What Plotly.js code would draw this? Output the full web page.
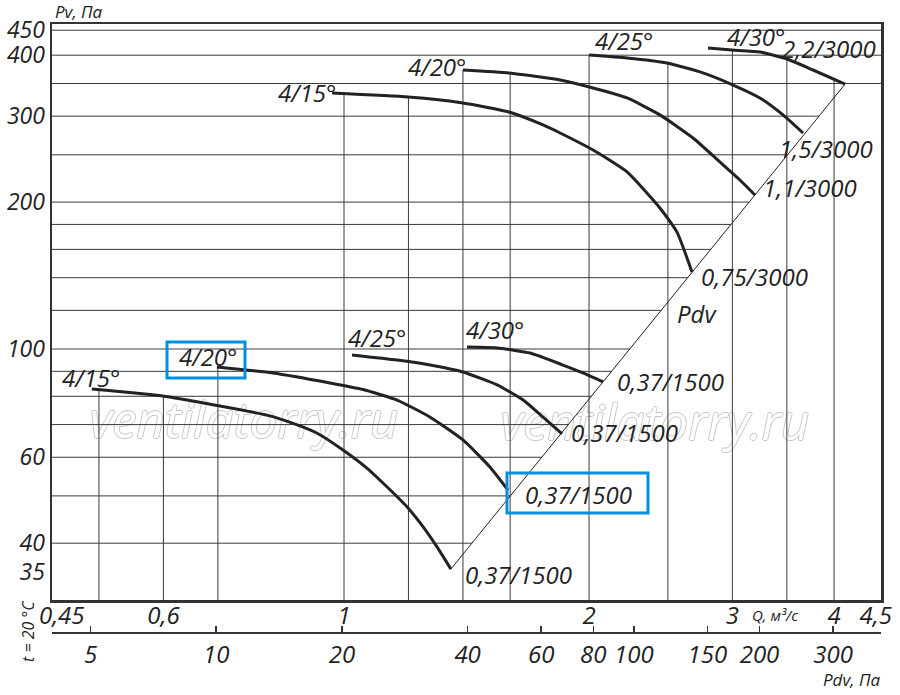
<!DOCTYPE html>
<html><head><meta charset="utf-8">
<script src="https://cdn.plot.ly/plotly-3.0.1.min.js"></script>
<style>html,body{margin:0;padding:0;background:#fff}</style>
</head><body><div id="chart" style="width:900px;height:695px"></div>
<script>
// ---- tick labels ----
const qTicks = [0.45, 0.6, 1, 2, 3, 4, 4.5];
const qTickText = ['0,45', '0,6', '1', '2', '3', '4', '4,5'];
const pdvTicks = [5, 10, 20, 40, 60, 80, 100, 150, 200, 300];
const pdvTickText = ['5', '10', '20', '40', '60', '80', '100', '150', '200', '300'];
const pvTicks = [35, 40, 60, 100, 200, 300, 400, 450];
const pvTickText = ['35', '40', '60', '100', '200', '300', '400', '450'];
// ---- grid values ----
const gridQ = [0.5, 0.6, 0.7, 1.0, 1.2, 1.4, 1.6, 2.0, 2.5, 3.0, 3.5, 4.0];
const gridPv = [40, 50, 60, 70, 80, 90, 100, 120, 140, 160, 180, 200, 250, 300, 350, 400, 450];
// ---- Pdv line ----
const pdvLineQ = [1.353, 4.126];
const pdvLinePv = [35.4, 349];
// ---- 1500 rpm curves (0,37 kW) ----
const q15_1500 = [0.490, 0.599, 0.698, 0.804, 0.866, 0.927, 0.997, 1.067, 1.129, 1.195, 1.251, 1.301, 1.353];
const pv15_1500 = [82.8, 80.1, 76.6, 73.2, 70.4, 67.2, 62.1, 57.0, 52.2, 47.5, 43.2, 39.3, 35.4];
const q20_1500 = [0.698, 0.818, 0.961, 1.055, 1.162, 1.276, 1.400, 1.511, 1.590];
const pv20_1500 = [91.9, 89.3, 85.2, 82.6, 78.6, 72.5, 65.1, 57.3, 51.4];
const q25_1500 = [1.023, 1.162, 1.276, 1.400, 1.542, 1.660, 1.756, 1.853];
const pv25_1500 = [97.2, 94.9, 92.7, 89.7, 84.4, 78.6, 72.5, 67.0];
const q30_1500 = [1.416, 1.542, 1.693, 1.858, 1.966, 2.081];
const pv30_1500 = [100.9, 100.5, 98.1, 92.7, 89.3, 85.6];
// ---- 3000 rpm curves ----
const q15_3000 = [0.967, 1.199, 1.400, 1.595, 1.756, 1.843, 2.023, 2.227, 2.444, 2.565, 2.676];
const pv15_3000 = [334.6, 328.4, 319.3, 305.9, 287.8, 277.1, 255.7, 230.6, 194.5, 173.6, 143.8];
const q20_3000 = [1.400, 1.595, 1.843, 2.023, 2.227, 2.444, 2.684, 2.896, 3.065, 3.198];
const pv20_3000 = [373.0, 367.8, 355.9, 342.7, 326.9, 301.8, 270.6, 241.7, 222.0, 206.8];
const q25_3000 = [2.000, 2.227, 2.493, 2.738, 3.006, 3.243, 3.462, 3.664];
const pv25_3000 = [400.4, 394.8, 385.5, 369.6, 347.5, 326.9, 301.8, 277.1];
const q30_3000 = [2.800, 2.997, 3.243, 3.501, 3.769, 4.126];
const pv30_3000 = [413.9, 410.0, 406.1, 392.9, 373.0, 349.0];
// ---- watermark text ----
const watermarkText = 'ventilatorry.ru';

const curves = [
  [q15_1500, pv15_1500], [q20_1500, pv20_1500], [q25_1500, pv25_1500], [q30_1500, pv30_1500],
  [q15_3000, pv15_3000], [q20_3000, pv20_3000], [q25_3000, pv25_3000], [q30_3000, pv30_3000]
];

// axis ranges (log10)
const xRange = [-0.35872, 0.65971];
const yRange = [1.48566, 2.66598];
const x2Range = [0.6068, 2.59195];
const qMin = Math.pow(10, xRange[0]), qMax = Math.pow(10, xRange[1]);
const pMin = Math.pow(10, yRange[0]), pMax = Math.pow(10, yRange[1]);

function interpLogLog(xs, ys, x) {
  const lx = Math.log10(x);
  if (x < xs[0]) return (x >= xs[0] * 0.995) ? ys[0] : null;
  for (let i = 0; i < xs.length - 1; i++) {
    if (x >= xs[i] && x <= xs[i + 1]) {
      const t = (lx - Math.log10(xs[i])) / (Math.log10(xs[i + 1]) - Math.log10(xs[i]));
      return Math.pow(10, Math.log10(ys[i]) + t * (Math.log10(ys[i + 1]) - Math.log10(ys[i])));
    }
  }
  return null;
}

// horizontal grid: ends on the Pdv line
const hgx = [], hgy = [];
gridPv.forEach(v => {
  let end = qMax;
  if (v <= pdvLinePv[1]) end = interpLogLog(pdvLinePv, pdvLineQ, v) || qMax;
  hgx.push(qMin, end, null); hgy.push(v, v, null);
});
// vertical grid: from bottom up to the highest curve
const vgx = [], vgy = [];
gridQ.forEach(q => {
  let top = null;
  curves.forEach(c => { const p = interpLogLog(c[0], c[1], q); if (p !== null && (top === null || p > top)) top = p; });
  if (top === null) top = pMax;
  vgx.push(q, q, null); vgy.push(pMin, top, null);
});

// watermark placement (pixel centres of the reference) converted through the axis ranges
const PL = 52, PR = 881, PT = 24, PB = 695, PYB = 600;
const pxToQ = px => Math.pow(10, xRange[0] + (px - PL) / (PR - PL) * (xRange[1] - xRange[0]));
const pyToPv = py => Math.pow(10, yRange[1] - (py - PT) / (PYB - PT) * (yRange[1] - yRange[0]));
const wmFont = {family: 'Open Sans', size: 49, color: '#ffffff',
  shadow: '1px 0 0 #c8c8c8, -1px 0 0 #c8c8c8, 0 1px 0 #c8c8c8, 0 -1px 0 #c8c8c8'};

const traces = [
  {x: [pxToQ(244), pxToQ(655)], y: [pyToPv(426), pyToPv(428)], mode: 'text', text: [watermarkText, watermarkText],
    textposition: 'middle center', textfont: wmFont, cliponaxis: false, hoverinfo: 'skip'},
  {x: hgx, y: hgy, mode: 'lines', line: {color: '#3a3a3a', width: 1}, hoverinfo: 'skip', connectgaps: false},
  {x: vgx, y: vgy, mode: 'lines', line: {color: '#3a3a3a', width: 1}, hoverinfo: 'skip', connectgaps: false},
  {x: pdvLineQ, y: pdvLinePv, mode: 'lines', line: {color: '#222', width: 1}, hoverinfo: 'skip'},
  // carrier for the Pdv scale axis (draws nothing)
  {x: pdvTicks, y: pdvTicks.map(() => pMin), xaxis: 'x2', yaxis: 'y', mode: 'none', hoverinfo: 'skip'}
];
curves.forEach(c => traces.push({x: c[0], y: c[1], mode: 'lines', line: {color: '#222', width: 3, shape: 'spline', smoothing: 0.5}, hoverinfo: 'skip'}));

// pixel -> paper helpers for labels
const fx = px => (px - PL) / (PR - PL);
const fy = py => (PB - py) / (PB - PT);
function lab(text, px, py, size, extra) {
  return Object.assign({text: text, xref: 'paper', yref: 'paper', x: fx(px), y: fy(py), xanchor: 'center', yanchor: 'middle',
    showarrow: false, font: {family: 'Open Sans', style: 'italic', size: size || 24, color: '#222'}}, extra || {});
}

const annotations = [
  lab('4/15°', 91, 377), lab('4/20°', 208, 356), lab('4/25°', 377, 337), lab('4/30°', 495, 329),
  lab('0,37/1500', 670, 381), lab('0,37/1500', 624, 432), lab('0,37/1500', 578, 494), lab('0,37/1500', 518, 574),
  lab('Pdv', 697, 313),
  lab('4/15°', 307, 92), lab('4/20°', 437, 66), lab('4/25°', 624, 41), lab('4/30°', 756, 37),
  lab('2,2/3000', 829, 49), lab('1,5/3000', 826, 148), lab('1,1/3000', 810, 188), lab('0,75/3000', 754, 276),
  lab('Pv, Па', 79, 12, 17),
  lab('Q, м³/с', 775, 615, 15),
  lab('Pdv, Па', 851, 679, 17),
  lab('t = 20 °C', 28, 631, 16, {textangle: -90})
];

const blue = 'rgb(0,144,224)';
const shapes = [
  {type: 'rect', xref: 'paper', yref: 'paper', x0: fx(167), x1: fx(245), y0: fy(378), y1: fy(342), line: {color: blue, width: 3}},
  {type: 'rect', xref: 'paper', yref: 'paper', x0: fx(507), x1: fx(648), y0: fy(513), y1: fy(473), line: {color: blue, width: 3}}
];

const tf = {family: 'Open Sans', style: 'italic', size: 24, color: '#222'};
const tfy = {family: 'Open Sans', style: 'italic', size: 23, color: '#222'};
const layout = {
  width: 900, height: 695,
  margin: {l: 52, r: 19, t: 24, b: 0},
  paper_bgcolor: '#fff', plot_bgcolor: '#fff',
  showlegend: false, hovermode: false,
  font: tf,
  xaxis: {type: 'log', range: xRange, tickvals: qTicks, ticktext: qTickText, tickfont: tf,
    showgrid: false, zeroline: false, showline: true, mirror: true, linecolor: '#333', linewidth: 2.5,
    ticks: '', anchor: 'y', ticklabelstandoff: -7},
  xaxis2: {type: 'log', range: x2Range, overlaying: 'x', anchor: 'free', position: (PB - 633) / (PB - PT), side: 'bottom',
    tickvals: pdvTicks, ticktext: pdvTickText, tickfont: tf, showgrid: false, zeroline: false,
    showline: true, linecolor: '#333', linewidth: 2, ticks: 'inside', ticklen: 6, tickwidth: 1.5, tickcolor: '#333'},
  yaxis: {type: 'log', range: yRange, domain: [(PB - PYB) / (PB - PT), 1], tickvals: pvTicks, ticktext: pvTickText, tickfont: tfy,
    showgrid: false, zeroline: false, showline: true, mirror: true, linecolor: '#333', linewidth: 2.5, ticks: ''},
  annotations: annotations,
  shapes: shapes
};

Plotly.newPlot('chart', traces, layout, {displayModeBar: false, staticPlot: true});
</script></body></html>
